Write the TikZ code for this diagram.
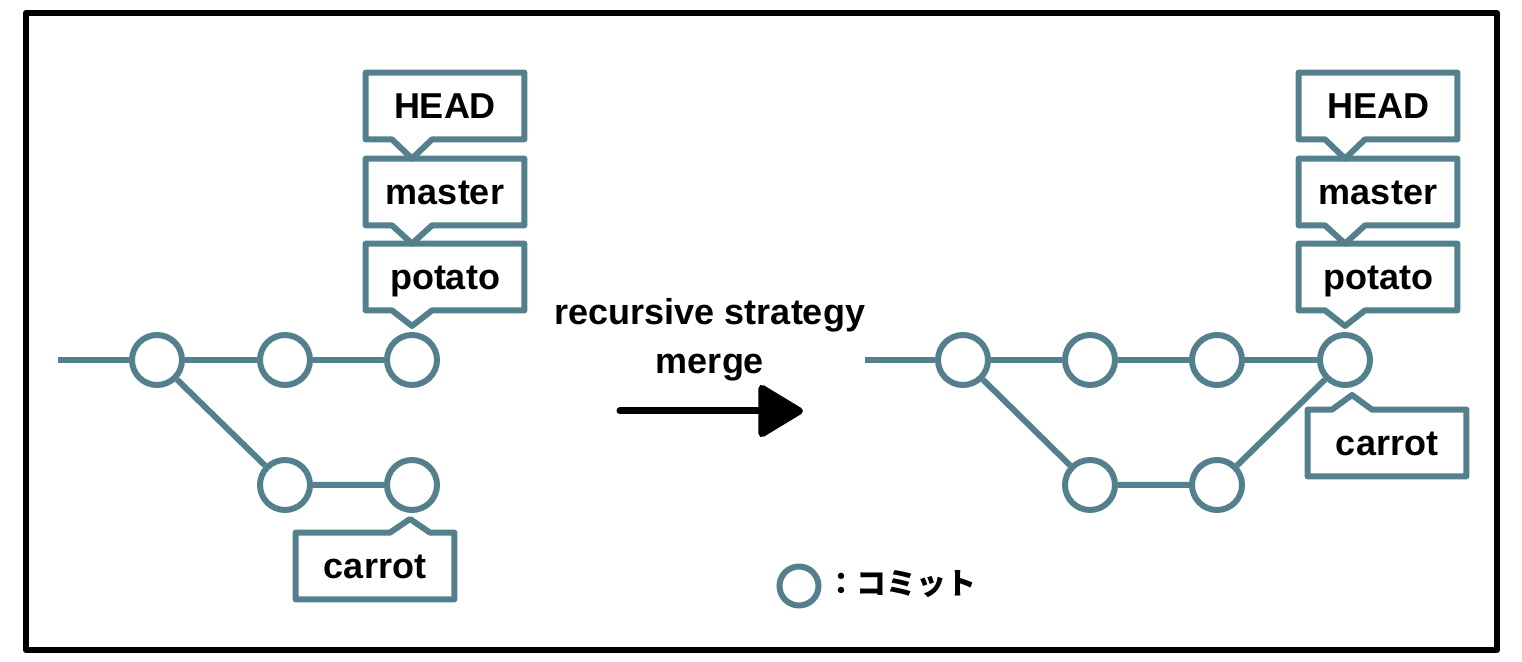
\documentclass[tikz,border=0pt]{standalone}
\usepackage{fontspec}
\setmainfont{Liberation Sans}
\newfontfamily\jpfont{Noto Sans CJK JP}
\usepackage{tikz}
\usetikzlibrary{arrows.meta,calc}

\definecolor{gitteal}{RGB}{84,128,141}

\tikzset{
  branch/.style={draw=gitteal, line width=3pt},
  commit/.style={circle, draw=gitteal, line width=3pt, fill=white, minimum size=25pt, inner sep=0pt},
  tagbox/.style={minimum width=79pt, minimum height=33pt, inner sep=0pt, text height=13pt, text depth=0pt, font=\fontsize{18}{22}\selectfont\bfseries},
  tagline/.style={draw=gitteal, line width=3pt, line join=round},
}

% box with a notch pointing down (#2) or up (#3) to a tip
\newcommand{\tagdown}[2]{%
  \draw[tagline] (#1.south west) -- (#1.north west) -- (#1.north east) -- (#1.south east)
    -- ($(#1.south -| #2)+(20,0)$) -- (#2) -- ($(#1.south -| #2)+(-20,0)$) -- cycle;}
\newcommand{\tagup}[2]{%
  \draw[tagline] (#1.north west) -- (#1.south west) -- (#1.south east) -- (#1.north east)
    -- ($(#1.north -| #2)+(20,0)$) -- (#2) -- ($(#1.north -| #2)+(-20,0)$) -- cycle;}

\begin{document}
\begin{tikzpicture}[x=0.5pt, y=-0.5pt, >={Triangle[length=24pt, width=28pt, round]}]
	\useasboundingbox (0,0) rectangle (1522,662);
	\draw[line width=3pt, line join=round] (26,13) rectangle (1497,650);

	% before the merge
	\coordinate (lstart) at (58,360);
	\node[commit] (l1) at (157,360) {};
	\node[commit] (l2) at (285,360) {};
	\node[commit] (l3) at (412,360) {};
	\node[commit] (l4) at (285,485) {};
	\node[commit] (l5) at (412,485) {};
	\draw[branch] (lstart) -- (l1) -- (l2) -- (l3);
	\draw[branch] (l1) -- (l4) -- (l5);

	\node[tagbox] (lhead) at (445,106) {HEAD};
	\node[tagbox] (lmaster) at (445,192) {master};
	\node[tagbox] (lpotato) at (445,277) {potato};
	\node[tagbox] (lcarrot) at (375,566) {carrot};
	\coordinate (lt1) at (lmaster.north -| l3);
	\coordinate (lt2) at (lpotato.north -| l3);
	\coordinate (lt3) at (412,326);
	\coordinate (lt4) at (410,519);
	\tagdown{lhead}{lt1}
	\tagdown{lmaster}{lt2}
	\tagdown{lpotato}{lt3}
	\tagup{lcarrot}{lt4}

	% merge arrow
	\node[align=center, font=\fontsize{18}{24.5}\selectfont\bfseries] (mtext) at (710,340) {recursive strategy\\merge};
	\coordinate (afrom) at (620,411);
	\coordinate (ato) at (803,411);
	\draw[->, line width=3.5pt, line cap=round] (afrom) -- (ato);

	% after the merge
	\coordinate (rstart) at (865,360);
	\node[commit] (r1) at (963,360) {};
	\node[commit] (r2) at (1090,360) {};
	\node[commit] (r3) at (1217,360) {};
	\node[commit] (r4) at (1345,360) {};
	\node[commit] (r5) at (1090,485) {};
	\node[commit] (r6) at (1217,485) {};
	\draw[branch] (rstart) -- (r1) -- (r2) -- (r3) -- (r4);
	\draw[branch] (r1) -- (r5) -- (r6) -- (r4);

	\node[tagbox] (rhead) at (1378,106) {HEAD};
	\node[tagbox] (rmaster) at (1378,192) {master};
	\node[tagbox] (rpotato) at (1378,277) {potato};
	\node[tagbox] (rcarrot) at (1387,443) {carrot};
	\coordinate (rt1) at (rmaster.north -| r4);
	\coordinate (rt2) at (rpotato.north -| r4);
	\coordinate (rt3) at (1345,326);
	\coordinate (rt4) at (1352,395);
	\tagdown{rhead}{rt1}
	\tagdown{rmaster}{rt2}
	\tagdown{rpotato}{rt3}
	\tagup{rcarrot}{rt4}

	% legend
	\node[commit, minimum size=19.5pt] (key) at (799,586) {};
	\node[anchor=west, inner sep=0pt, font=\jpfont\fontsize{15}{17}\selectfont\bfseries] (keytext) at (826,584) {：コミット};
\end{tikzpicture}
\end{document}
